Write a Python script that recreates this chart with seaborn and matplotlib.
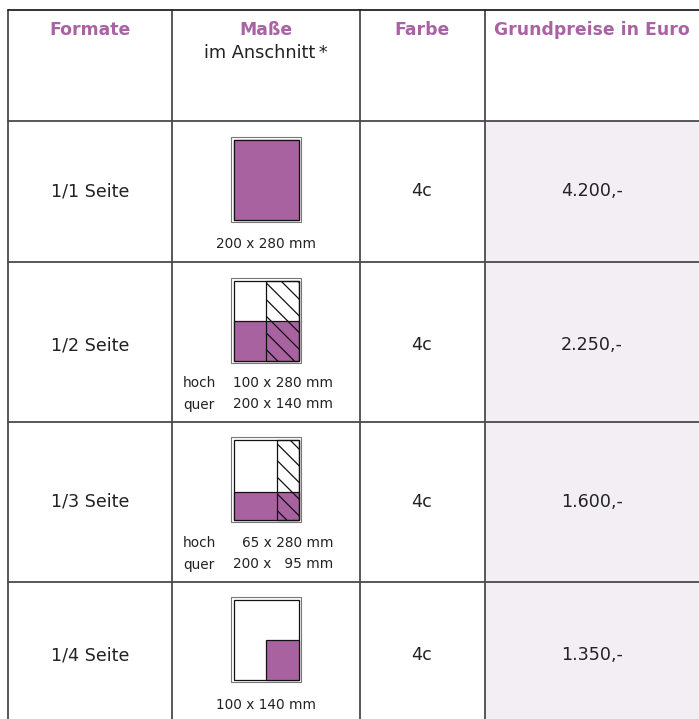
import numpy as np
import matplotlib
matplotlib.use("Agg")
import matplotlib.pyplot as plt
from matplotlib.patches import Rectangle
import seaborn as sns

# ---- table content ----
headers      = ["Formate", "Maße", "Farbe", "Grundpreise in Euro"]
sub_header   = "im Anschnitt\u2009*"
formats      = ["1/1 Seite", "1/2 Seite", "1/3 Seite", "1/4 Seite"]
colours      = ["4c", "4c", "4c", "4c"]
prices       = ["4.200,-", "2.250,-", "1.600,-", "1.350,-"]
caption_hoch = [None, "100 x 280 mm", "65 x 280 mm", None]
caption_quer = [None, "200 x 140 mm", "200 x\u2007 95 mm", None]
caption_one  = ["200 x 280 mm", None, None, "100 x 140 mm"]
# page 200 x 280 mm; filled part (w, h) anchored bottom-right, hatched part (w, h) anchored right
page_mm   = (200, 280)
filled_mm = [(200, 280), (200, 140), (200, 95), (100, 140)]
hatch_mm  = [None, (100, 280), (65, 280), None]

sns.set_theme(style="white")
plt.rcParams['font.family'] = ['DejaVu Sans']
plt.rcParams['hatch.linewidth'] = 0.9

purple = "#a8629f"
head_c = "#a963a3"
line_c = "#4a4a4a"
text_c = "#222222"
price_bg = "#f3eef4"

fig = plt.figure(figsize=(6.99, 7.19), dpi=100)
ax = fig.add_axes([0, 0, 1, 1])
ax.set_xlim(0, 699)
ax.set_ylim(719, 0)
ax.axis("off")

col_x   = [8, 172, 360, 485]
col_mid = [90, 266, 422, 592]
row_top = [121, 262, 422, 582]
label_dy = [70, 83, 80, 73]
icon_dy  = [16, 16, 15, 15]
table_top = 10

# price column background
ax.add_patch(Rectangle((col_x[3], row_top[0]), 699 - col_x[3], 719 - row_top[0],
                       facecolor=price_bg, edgecolor="none", zorder=0))

# grid lines
for x in col_x:
    ax.plot([x, x], [table_top, 719], color=line_c, lw=1.3, zorder=3)
ax.plot([col_x[0], 699], [table_top, table_top], color="#222222", lw=1.3, zorder=3)
for y in row_top:
    ax.plot([col_x[0], 699], [y, y], color=line_c, lw=1.3, zorder=3)

# header
for h, xm in zip(headers, col_mid):
    ax.text(xm, 30, h, ha="center", va="center", fontsize=12.4,
            fontweight="bold", color=head_c)
ax.text(col_mid[1], 53, sub_header, ha="center", va="center", fontsize=12.8,
        color=text_c)

# body
icon_w, icon_h = 70, 85
for i in range(len(formats)):
    cy = row_top[i] + label_dy[i]
    ax.text(col_mid[0], cy, formats[i], ha="center", va="center", fontsize=12.6, color=text_c)
    ax.text(col_mid[2], cy, colours[i], ha="center", va="center", fontsize=12.6, color=text_c)
    ax.text(col_mid[3], cy, prices[i], ha="center", va="center", fontsize=12.6, color=text_c)

    # page icon
    x0 = col_mid[1] - icon_w / 2
    y0 = row_top[i] + icon_dy[i]
    ax.add_patch(Rectangle((x0, y0), icon_w, icon_h, facecolor="white",
                           edgecolor="#777777", lw=0.8, zorder=4))
    ix, iy = x0 + 2.5, y0 + 2.5
    iw, ih = icon_w - 5, icon_h - 5
    ax.add_patch(Rectangle((ix, iy), iw, ih, facecolor="white",
                           edgecolor="#111111", lw=0.9, zorder=4))
    fw, fh = filled_mm[i]
    pw = iw * fw / page_mm[0]
    ph = ih * fh / page_mm[1]
    ax.add_patch(Rectangle((ix + iw - pw, iy + ih - ph), pw, ph, facecolor=purple,
                           edgecolor="#111111", lw=0.9, zorder=5))
    if hatch_mm[i] is not None:
        hw, hh = hatch_mm[i]
        qw = iw * hw / page_mm[0]
        qh = ih * hh / page_mm[1]
        ax.add_patch(Rectangle((ix + iw - qw, iy + ih - qh), qw, qh, facecolor="none",
                               edgecolor="#111111", hatch="\\\\", lw=0.9, zorder=6))

    # captions
    if caption_one[i] is not None:
        ax.text(col_mid[1], row_top[i] + 123, caption_one[i], ha="center", va="center",
                fontsize=9.8, color=text_c)
    else:
        for k, (lab, txt) in enumerate([("hoch", caption_hoch[i]), ("quer", caption_quer[i])]):
            yy = row_top[i] + 121 + k * 21.5
            ax.text(183, yy, lab, ha="left", va="center", fontsize=9.8, color=text_c)
            ax.text(333, yy, txt, ha="right", va="center", fontsize=9.8, color=text_c)

fig.savefig("out.png", dpi=100)
